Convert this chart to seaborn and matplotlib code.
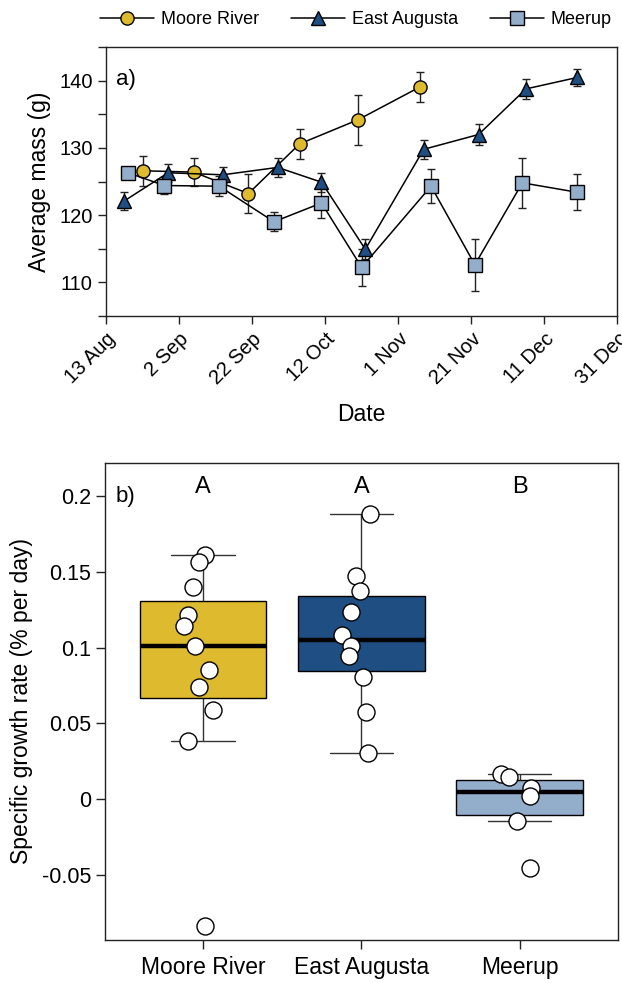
import numpy as np
import pandas as pd
import matplotlib
matplotlib.use("Agg")
import matplotlib.pyplot as plt
from matplotlib.lines import Line2D
import seaborn as sns

# ---------------- data ----------------
sites = ["Moore River", "East Augusta", "Meerup"]
site_colors = ["#DEBA2E", "#1F4E82", "#93AECB"]
site_markers = ["o", "^", "s"]

moore_dates = ["2016-08-23", "2016-09-06", "2016-09-21", "2016-10-05", "2016-10-21", "2016-11-07"]
moore_mass = [126.6, 126.4, 123.2, 130.6, 134.2, 139.1]
moore_se = [2.2, 2.1, 2.9, 2.2, 3.7, 2.2]

east_dates = ["2016-08-18", "2016-08-30", "2016-09-14", "2016-09-29", "2016-10-11",
              "2016-10-23", "2016-11-08", "2016-11-23", "2016-12-06", "2016-12-20"]
east_mass = [122.1, 126.3, 126.0, 127.1, 124.9, 114.9, 129.8, 132.0, 138.8, 140.5]
east_se = [1.3, 1.3, 1.2, 1.4, 1.4, 1.5, 1.4, 1.5, 1.5, 1.2]

meer_dates = ["2016-08-19", "2016-08-29", "2016-09-13", "2016-09-28", "2016-10-11",
              "2016-10-22", "2016-11-10", "2016-11-22", "2016-12-05", "2016-12-20"]
meer_mass = [126.3, 124.4, 124.3, 119.0, 121.8, 112.2, 124.3, 112.6, 124.8, 123.4]
meer_se = [0.6, 1.2, 1.5, 1.4, 2.2, 2.8, 2.5, 3.9, 3.7, 2.7]

date_ticks = ["2016-08-13", "2016-09-02", "2016-09-22", "2016-10-12",
              "2016-11-01", "2016-11-21", "2016-12-11", "2016-12-31"]
date_tick_labels = ["13 Aug", "2 Sep", "22 Sep", "12 Oct", "1 Nov", "21 Nov", "11 Dec", "31 Dec"]

moore_sgr = [0.1613, 0.1567, 0.1398, 0.1214, 0.1141, 0.1011, 0.0853, 0.0743, 0.0589, 0.0387, -0.0836]
moore_jit = [0.011, -0.025, -0.063, -0.095, -0.122, -0.053, 0.036, -0.025, 0.065, -0.093, 0.013]
east_sgr = [0.1884, 0.1475, 0.1374, 0.1233, 0.1082, 0.1013, 0.0947, 0.0809, 0.0574, 0.0303]
east_jit = [0.053, -0.036, -0.011, -0.067, -0.122, -0.063, -0.078, 0.008, 0.027, 0.044]
meer_sgr = [0.0167, 0.0149, 0.0073, 0.0024, -0.0143, -0.0455]
meer_jit = [-0.12, -0.07, 0.074, 0.068, -0.014, 0.066]

group_letters = ["A", "A", "B"]

# ---------------- style ----------------
sns.set_style("ticks")
plt.rcParams["font.family"] = ["Liberation Sans", "DejaVu Sans"]
plt.rcParams["axes.edgecolor"] = "#222222"
plt.rcParams["axes.linewidth"] = 1.0
for k in ["text.color", "axes.labelcolor", "xtick.labelcolor", "ytick.labelcolor"]:
    plt.rcParams[k] = "black"

fig = plt.figure(figsize=(6.22, 9.83), dpi=100)
W, H = 622, 983
ax1 = fig.add_axes([106 / W, 1 - 315.7 / H, (617.3 - 106) / W, (315.7 - 47.3) / H])
ax2 = fig.add_axes([105 / W, 1 - 940 / H, (617.7 - 105) / W, (940 - 463) / H])

# ---------------- panel a ----------------
frames = []
for s, d, m, e in zip(sites, [moore_dates, east_dates, meer_dates],
                      [moore_mass, east_mass, meer_mass], [moore_se, east_se, meer_se]):
    frames.append(pd.DataFrame({"site": s, "date": pd.to_datetime(d), "mass": m, "se": e}))
df1 = pd.concat(frames, ignore_index=True)

for s in sites:
    sub = df1[df1.site == s]
    ax1.errorbar(sub["date"], sub["mass"], yerr=sub["se"], fmt="none",
                 ecolor="#222222", elinewidth=1.0, capsize=3, capthick=1.0, zorder=2)

sns.lineplot(data=df1, x="date", y="mass", hue="site", style="site",
             hue_order=sites, style_order=sites,
             palette=dict(zip(sites, site_colors)),
             markers=dict(zip(sites, site_markers)), dashes=False,
             linewidth=1.1, markersize=9.5,
             markeredgecolor="black", markeredgewidth=1.0,
             estimator=None, sort=True, ax=ax1, zorder=3, legend=False)
for ln in ax1.lines:
    if ln.get_marker() in site_markers:
        fc = ln.get_color()
        ln.set_markerfacecolor(fc)
        ln.set_color("black")
        ln.set_markeredgecolor("black")

handles = [Line2D([], [], color="black", linewidth=1.1, marker=m, markersize=9.5,
                  markerfacecolor=c, markeredgecolor="black", markeredgewidth=1.0)
           for m, c in zip(site_markers, site_colors)]
fig.legend(handles, sites, loc="center right", bbox_to_anchor=(619 / W, 1 - 20 / H),
           ncol=3, frameon=False, fontsize=13, handlelength=3.0,
           handletextpad=0.35, columnspacing=1.8, borderaxespad=0)

ax1.set_xlim(pd.Timestamp(date_ticks[0]), pd.Timestamp(date_ticks[-1]))
ax1.set_xticks(pd.to_datetime(date_ticks))
ax1.set_xticklabels(date_tick_labels, rotation=45, ha="right", rotation_mode="anchor")
ax1.set_ylim(105, 145)
ax1.set_yticks([110, 120, 130, 140])
ax1.set_yticks([105, 115, 125, 135, 145], minor=True)
ax1.tick_params(axis="both", which="both", direction="out", length=6, width=1.0,
                labelsize=14.5, color="#222222")
ax1.tick_params(axis="x", pad=4)
ax1.set_xlabel("Date", fontsize=16.5, labelpad=11)
ax1.set_ylabel("Average mass (g)", fontsize=16.5, labelpad=6)
ax1.text(0.02, 0.88, "a)", transform=ax1.transAxes, fontsize=16, ha="left", va="center")

# ---------------- panel b ----------------
df2 = pd.concat([
    pd.DataFrame({"site": s, "sgr": v, "jit": j})
    for s, v, j in zip(sites, [moore_sgr, east_sgr, meer_sgr], [moore_jit, east_jit, meer_jit])
], ignore_index=True)

sns.boxplot(data=df2, x="site", y="sgr", hue="site", order=sites, hue_order=sites,
            palette=dict(zip(sites, site_colors)), saturation=1, width=0.8,
            showfliers=False, linecolor="black", linewidth=1.0, legend=False,
            medianprops=dict(color="black", linewidth=3.2),
            whiskerprops=dict(color="#333333", linewidth=1.0),
            capprops=dict(color="#333333", linewidth=1.0),
            ax=ax2, zorder=2)

df2["xpos"] = df2["site"].map({s: i for i, s in enumerate(sites)}) + df2["jit"]
sns.scatterplot(data=df2, x="xpos", y="sgr", color="white", edgecolor="black",
                linewidth=1.0, s=150, ax=ax2, zorder=4, legend=False)

for i, letter in enumerate(group_letters):
    ax2.text(i, 0.206, letter, fontsize=17, ha="center", va="center")
ax2.text(0.02, 0.93, "b)", transform=ax2.transAxes, fontsize=16, ha="left", va="center")

ax2.set_xlim(-0.62, 2.62)
ax2.set_ylim(-0.0928, 0.2218)
ax2.set_xticks(range(len(sites)))
ax2.set_xticklabels(sites)
ax2.set_yticks([-0.05, 0, 0.05, 0.1, 0.15, 0.2])
ax2.set_yticklabels(["-0.05", "0", "0.05", "0.1", "0.15", "0.2"])
ax2.tick_params(axis="both", direction="out", length=6.5, width=1.0, color="#222222")
ax2.tick_params(axis="y", labelsize=15.5)
ax2.tick_params(axis="x", labelsize=16.5, pad=5)
ax2.set_xlabel("")
ax2.set_ylabel("Specific growth rate (% per day)", fontsize=16.5, labelpad=6)

fig.savefig("out.png", dpi=100)
